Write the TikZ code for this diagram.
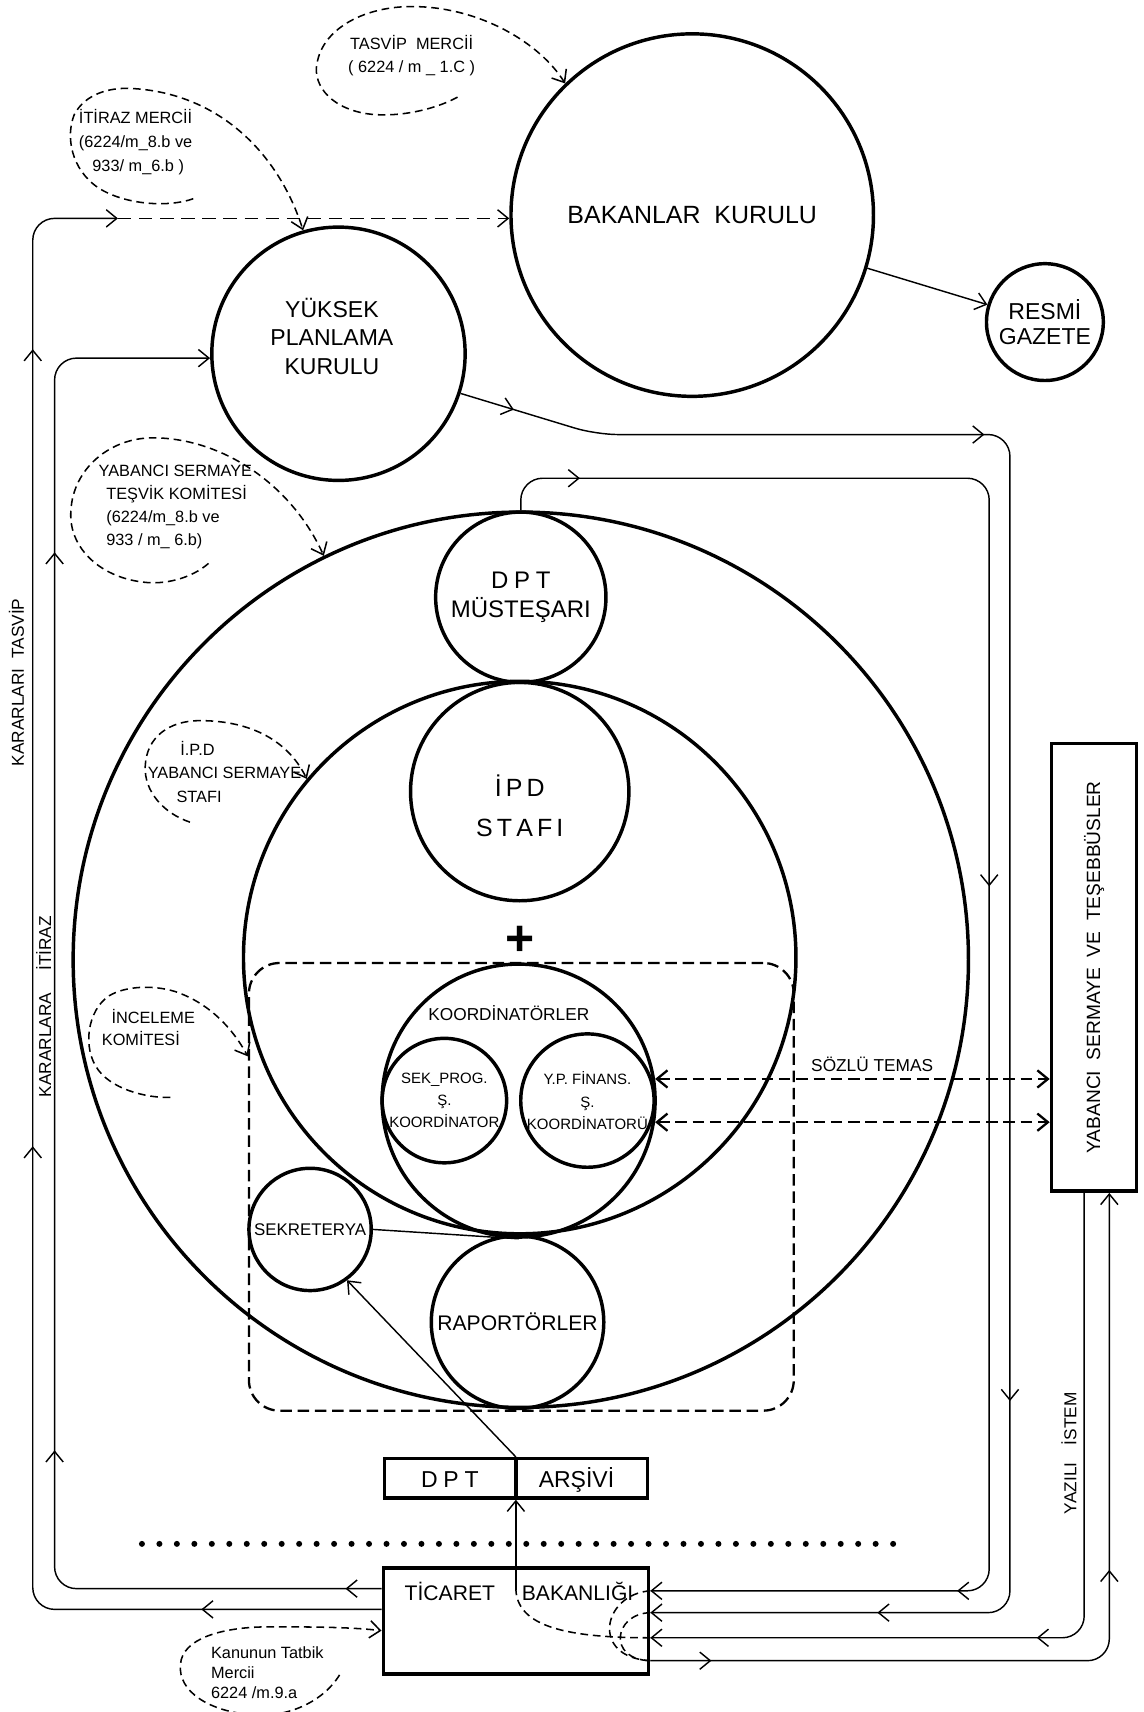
\documentclass[tikz,border=0pt]{standalone}
\usepackage{fontspec}
\setmainfont{Liberation Sans}
\usetikzlibrary{positioning}
\usetikzlibrary{arrows.meta}
\usetikzlibrary{calc}
\usetikzlibrary{decorations.markings}

\tikzset{
	daire/.style={circle,draw,line width=1.8pt,inner sep=0pt,align=center},
	kutu/.style={rectangle,draw,line width=1.8pt,inner sep=0pt,align=center},
	hat/.style={line width=0.75pt,rounded corners=4mm},
	araok/.style={postaction={decorate,decoration={markings,mark=at position #1 with {\arrow{>}}}}},
	notcizgi/.style={line width=0.8pt,dash pattern=on 4pt off 2.5pt},
	anayazi/.style={font=\fontsize{13}{15}\selectfont},
	ortayazi/.style={font=\fontsize{12}{15}\selectfont},
	kucukyazi/.style={font=\fontsize{9}{11}\selectfont},
	notyazi/.style={font=\fontsize{8.5}{12}\selectfont,align=left,anchor=west,inner sep=0pt},
	minikyazi/.style={font=\fontsize{7.8}{11.5}\selectfont},
}

\begin{document}
\begin{tikzpicture}[x=0.2mm,y=-0.2mm,>={Straight Barb[length=5.5pt,width=9pt]}]
		\useasboundingbox (0,0) rectangle (1047,1568);
		\node (bakanlar) [daire,minimum size=66.4mm,anayazi] at (634,197) {BAKANLAR\ \ KURULU};
		\node (resmi) [daire,minimum size=21.4mm,font=\fontsize{12}{13}\selectfont] at (957,295) {RESMİ\\GAZETE};
		\node (ypk) [daire,minimum size=46.4mm] at (310,324) {};
		\node (ypkyazi) [ortayazi,align=center] at (304,308) {YÜKSEK\\PLANLAMA\\KURULU};
		\node (komite) [daire,minimum size=164mm] at (477,879) {};
		\node (mustesar) [daire,minimum size=31.2mm,font=\fontsize{12.5}{15.4}\selectfont] at (477,547) {D\kern3pt P\kern3pt T\\MÜSTEŞARI};
		\node (ipd) [daire,minimum size=101.2mm] at (476,877) {};
		\node (ipdstaf) [daire,minimum size=40mm] at (476,725) {};
		\node (ipdyazi) [anayazi,align=center,font=\fontsize{13}{21}\selectfont] at (476,738) {İ\,P\,D\\S\,T\,A\,F\,I};
		\node (arti) [font=\fontsize{26}{26}\selectfont\bfseries] at (476,862) {+};
		\node (inceleme) [draw,line width=1.2pt,dash pattern=on 6pt off 3pt,rounded corners=5.6mm,minimum width=99.8mm,minimum height=82mm] at (477.5,1087) {};
		\node (koord) [daire,minimum size=50mm] at (475,1008) {};
		\node (koordyazi) [kucukyazi] at (466,928) {KOORDİNATÖRLER};
		\node (sekprog) [daire,minimum size=22.8mm,minikyazi] at (407,1008) {SEK\_PROG.\\Ş.\\KOORDİNATOR};
		\node (ypfinans) [daire,minimum size=24.4mm,minikyazi] at (538,1008) {Y.P. FİNANS.\\Ş.\\KOORDİNATORÜ};
		\node (sekreterya) [daire,minimum size=22.4mm,font=\fontsize{8.8}{10}\selectfont] at (284,1126) {SEKRETERYA};
		\node (raportor) [daire,minimum size=31.6mm,font=\fontsize{11}{13}\selectfont] at (474,1211) {RAPORTÖRLER};
		\node (yabanci) [kutu,minimum width=15.6mm,minimum height=82mm,font=\fontsize{10}{12}\selectfont] at (1002,886) {\rotatebox{90}{YABANCI\ \ SERMAYE\ \ VE\ \ TEŞEBBÜSLER}};
		\node (arsiv) [kutu,minimum width=48.2mm,minimum height=7.2mm] at (472.5,1354) {};
		\node (arsivdpt) [ortayazi] at (412,1355) {D\kern3pt P\kern3pt T};
		\node (arsivyazi) [ortayazi] at (528,1355) {ARŞİVİ};
		\node (ticaret) [kutu,minimum width=48.6mm,minimum height=19.4mm] at (472.5,1484.5) {};
		\node (ticaretyazi) [font=\fontsize{11}{13}\selectfont] at (412,1458) {TİCARET};
		\node (bakanlikyazi) [font=\fontsize{11}{13}\selectfont] at (529,1458) {BAKANLIĞI};
		\node (tasvipyazi) [rotate=90,kucukyazi] at (15,625) {KARARLARI\ \ TASVİP};
		\node (itirazyazi) [rotate=90,kucukyazi] at (40,922) {KARARLARA\quad\ İTİRAZ};
		\node (istemyazi) [rotate=90,kucukyazi] at (979,1331) {YAZILI\quad İSTEM};
		\node (tasvipnot) [font=\fontsize{8.5}{12}\selectfont,align=center] at (377,51) {TASVİP\ \ MERCİİ\\( 6224 / m \_ 1.C )};
		\node (itiraznot) [notyazi,font=\fontsize{8.5}{12.5}\selectfont] at (72,130) {İTİRAZ MERCİİ\\(6224/m\_8.b ve\\\hspace*{7pt}933/ m\_6.b )};
		\node (tesviknot) [notyazi] at (90,464) {YABANCI SERMAYE\\\hspace*{4pt}TEŞVİK KOMİTESİ\\\hspace*{4pt}(6224/m\_8.b ve\\\hspace*{4pt}933 / m\_ 6.b)};
		\node (ipdnot) [notyazi,font=\fontsize{8.5}{12.2}\selectfont] at (135,707) {\hspace*{17pt}İ.P.D\\YABANCI SERMAYE\\\hspace*{15pt}STAFI};
		\node (incelemenot) [notyazi,font=\fontsize{8.5}{11.4}\selectfont] at (93,941) {\hspace*{5pt}İNCELEME\\KOMİTESİ};
		\node (kanunnot) [notyazi,font=\fontsize{8.5}{10.3}\selectfont] at (193,1532) {Kanunun Tatbik\\Mercii\\6224 /m.9.a};

		\coordinate (solA) at (30,1474);
		\coordinate (solAust) at (30,200);
		\coordinate (tasvipuc) at (108,200);
		\coordinate (solB) at (50,1455);
		\coordinate (solBust) at (50,328);
		\coordinate (kirik) at (546,398);
		\coordinate (sagB) at (925,398);
		\coordinate (sagBalt) at (925,1477);
		\coordinate (sagA) at (906,438);
		\coordinate (sagAalt) at (906,1457);
		\coordinate (sagC) at (993,1500);
		\coordinate (sagD) at (1016,1521);
		\coordinate (arsivkirik) at (472.5,1456);

		\draw [hat,->,araok=33mm,araok=147mm,araok=293mm] (ticaret.west |- solA) -- (solA) -- (solAust) -- (tasvipuc);
		\draw [hat,->,dash pattern=on 7pt off 4pt] (tasvipuc) -- (tasvipuc -| bakanlar.west);
		\draw [hat,->,araok=6.6mm,araok=83.5mm,araok=248mm] (ticaret.west |- solB) -- (solB) -- (solBust) -- (solBust -| ypk.west);
		\draw [hat,->,araok=10.2mm,araok=97mm,araok=277mm,araok=-41.6mm] (ypk.-18) -- (kirik) -- (sagB) -- (sagBalt) -- (ticaret.east |- sagBalt);
		\draw [hat,->,araok=15mm,araok=163mm,araok=-56.2mm] (mustesar.north) -- (mustesar.north |- sagA) -- (sagA) -- (sagAalt) -- (ticaret.east |- sagAalt);
		\draw [hat,->,araok=-70.8mm] (yabanci.south -| sagC) -- (sagC) -- (ticaret.east |- sagC);
		\draw [hat,->,araok=11.2mm,araok=99mm] (ticaret.east |- sagD) -- (sagD) -- (yabanci.south -| sagD);
		\draw [hat,->] (bakanlar) -- (resmi);
		\draw [hat] (sekreterya.east) -- (koord.south);
		\draw [line width=1.8pt] (arsiv.north) -- (arsiv.south);
		\draw [hat,->] (arsiv.north) -- (sekreterya.-54);
		\draw [hat,->] (arsivkirik) -- (arsiv.south);
		\draw [notcizgi] (ticaret.east |- sagC) .. controls (520,1500) and (474,1490) .. (arsivkirik);
		\draw [notcizgi] (ticaret.east |- sagAalt) .. controls (552,1460) and (540,1518) .. (ticaret.east |- sagD);
		\draw [notcizgi] (ticaret.east |- sagBalt) .. controls (562,1478) and (556,1520) .. (ticaret.east |- sagD);
		\draw [<->,line width=1.2pt,dash pattern=on 6pt off 3pt] (koord.9) -- (koord.9 -| yabanci.west) node (sozlu) [pos=0.55,above,kucukyazi] {SÖZLÜ TEMAS};
		\draw [<->,line width=1.2pt,dash pattern=on 6pt off 3pt] (koord.-9) -- (koord.-9 -| yabanci.west);

		\draw [notcizgi,->] (419,89) .. controls (395,102) and (360,108) .. (335,104) .. controls (300,98) and (285,75) .. (291,55) .. controls (298,25) and (335,6) .. (377,6) .. controls (440,6) and (495,40) .. (bakanlar.134);
		\draw [notcizgi,->] (177,182) .. controls (155,190) and (115,188) .. (90,172) .. controls (65,155) and (60,125) .. (68,105) .. controls (78,86) and (100,80) .. (120,81) .. controls (200,85) and (255,140) .. (ypk.106);
		\draw [notcizgi,->] (191,516) .. controls (175,530) and (150,536) .. (130,533) .. controls (90,528) and (62,500) .. (65,467) .. controls (67,430) and (100,401) .. (140,401) .. controls (200,401) and (265,440) .. (komite.116);
		\draw [notcizgi,->] (174,753) .. controls (150,745) and (132,725) .. (133,702) .. controls (134,675) and (155,660) .. (183,660) .. controls (225,660) and (262,675) .. (ipd.140);
		\draw [notcizgi,->] (156,1005) .. controls (140,1006) and (105,1000) .. (90,980) .. controls (75,960) and (80,925) .. (100,912) .. controls (115,903) and (140,902) .. (160,908) .. controls (190,918) and (212,940) .. ($(inceleme.north west)!0.21!(inceleme.south west)$);
		\draw [notcizgi,->] (311,1534) .. controls (295,1560) and (260,1575) .. (225,1570) .. controls (185,1565) and (160,1545) .. (166,1520) .. controls (172,1498) and (210,1490) .. (246,1490) .. controls (280,1490) and (320,1490) .. ($(ticaret.north west)!0.59!(ticaret.south west)$);

		\foreach \i in {0,...,43} \fill (130+\i*16,1414) circle (0.55mm);
	\end{tikzpicture}
\end{document}
